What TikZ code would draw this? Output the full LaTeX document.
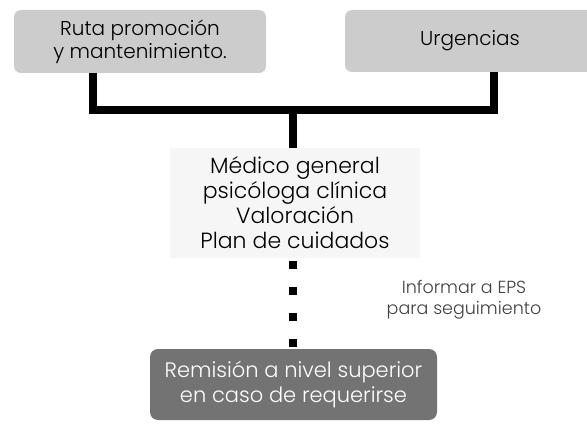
\documentclass[tikz,border=0pt]{standalone}
\usepackage{fontspec}
\setmainfont{Poppins}[UprightFont=* Light]
\usetikzlibrary{positioning}
\tikzset{
  topbox/.style = {fill = gray!40, rounded corners = 7pt, align = center, font = \fontsize{20}{23}\selectfont},
  midbox/.style = {fill = gray!7, align = center, font = \fontsize{22}{25}\selectfont},
  endbox/.style = {fill = black!55, rounded corners = 8pt, align = center, text = white, font = \fontsize{21}{25}\selectfont},
  bar/.style = {line width = 8pt},
  dotbar/.style = {line width = 8pt, dash pattern = on 8pt off 18pt}
}
\begin{document}
\begin{tikzpicture}[x = 1pt, y = -1pt, draw = black]
\useasboundingbox (0,0) rectangle (587,428);
\node[topbox, minimum width = 252pt, minimum height = 63pt] (ruta) at (140,41.5) {Ruta promoción\\y mantenimiento.};
\node[topbox, minimum width = 250pt, minimum height = 62pt] (urg) at (470,41) {Urgencias};
\node[midbox, minimum width = 250pt, minimum height = 110pt] (med) at (295,203) {Médico general\\psicóloga clínica\\Valoración\\Plan de cuidados};
\node[endbox, minimum width = 287pt, minimum height = 71pt] (rem) at (293.5,384.5) {Remisión a nivel superior\\en caso de requerirse};
\node[text = black!75, align = center, font = \fontsize{17.5}{21}\selectfont] (eps) at (464,300) {Informar a EPS\\para seguimiento};
% connectors
\coordinate (a) at (93,73);
\coordinate (b) at (494,72);
\coordinate (j) at (293,110);
\coordinate (d) at (293,261);
\draw[bar] (a) |- (j) -| (b);
\draw[bar] (j) -- (j |- med.north);
\draw[dotbar] (d) -- (d |- rem.north);
\end{tikzpicture}
\end{document}
